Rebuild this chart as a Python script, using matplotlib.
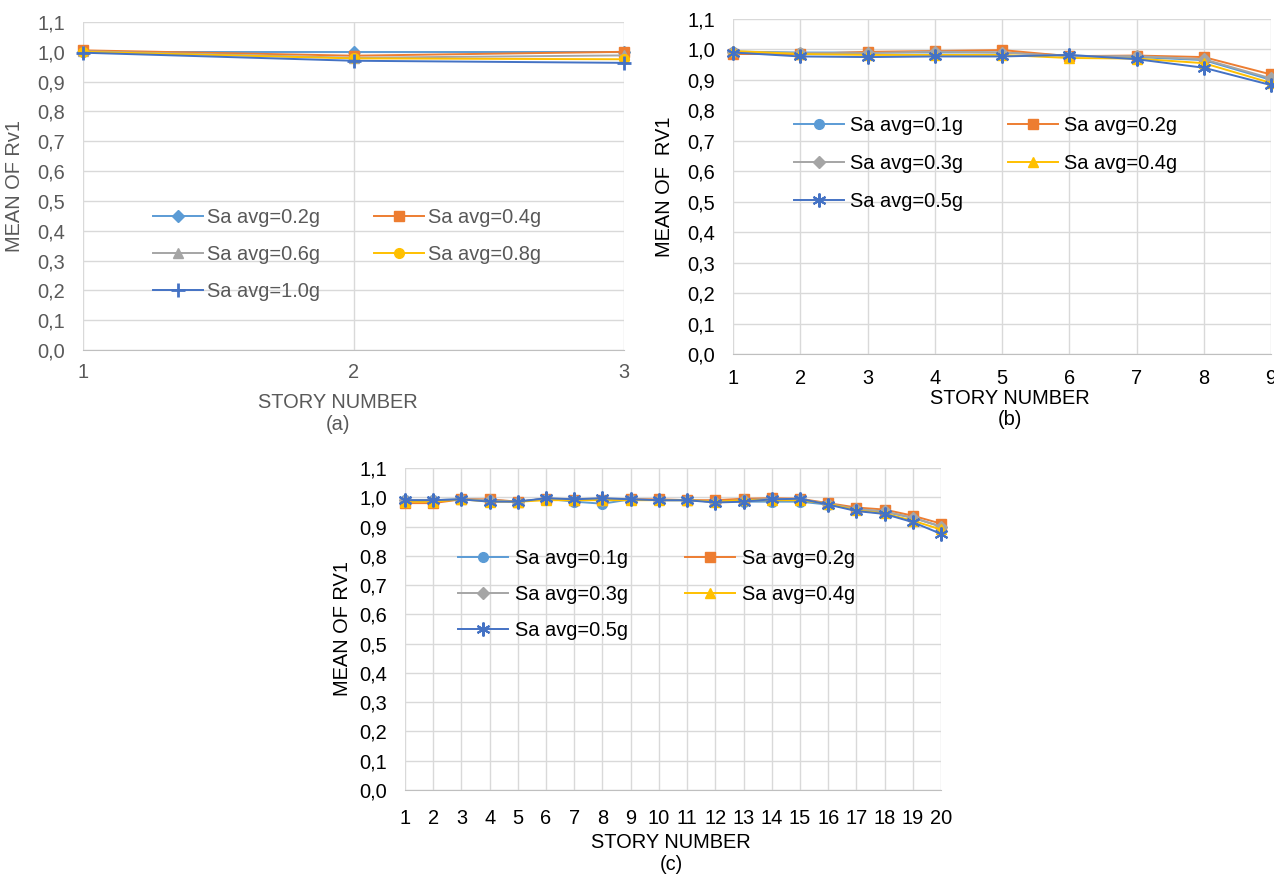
import numpy as np
import matplotlib
matplotlib.use("Agg")
import matplotlib.pyplot as plt
from matplotlib.ticker import FuncFormatter

plt.rcParams['font.family'] = ['Liberation Sans', 'DejaVu Sans']

# ---- data -----------------------------------------------------------------
stories_a = [1, 2, 3]
a_labels = ['Sa avg=0.2g', 'Sa avg=0.4g', 'Sa avg=0.6g', 'Sa avg=0.8g', 'Sa avg=1.0g']
a_02 = [1.000, 1.000, 1.000]
a_04 = [1.005, 0.987, 1.000]
a_06 = [1.002, 0.980, 0.988]
a_08 = [1.000, 0.978, 0.975]
a_10 = [0.997, 0.970, 0.963]

stories_b = list(range(1, 10))
bc_labels = ['Sa avg=0.1g', 'Sa avg=0.2g', 'Sa avg=0.3g', 'Sa avg=0.4g', 'Sa avg=0.5g']
b_01 = [0.993, 0.990, 0.990, 0.990, 0.990, 0.980, 0.975, 0.965, 0.900]
b_02 = [0.985, 0.985, 0.992, 0.995, 0.998, 0.978, 0.980, 0.975, 0.918]
b_03 = [0.992, 0.988, 0.988, 0.993, 0.990, 0.978, 0.978, 0.968, 0.905]
b_04 = [0.995, 0.985, 0.982, 0.982, 0.982, 0.972, 0.970, 0.955, 0.890]
b_05 = [0.990, 0.977, 0.975, 0.977, 0.977, 0.982, 0.968, 0.940, 0.883]

stories_c = list(range(1, 21))
c_01 = [0.990, 0.990, 0.993, 0.990, 0.985, 0.995, 0.985, 0.978, 0.993, 0.990,
        0.990, 0.985, 0.985, 0.985, 0.985, 0.975, 0.960, 0.950, 0.930, 0.900]
c_02 = [0.980, 0.980, 0.993, 0.993, 0.985, 0.995, 0.992, 0.990, 0.993, 0.993,
        0.990, 0.990, 0.995, 0.997, 0.995, 0.980, 0.965, 0.958, 0.937, 0.910]
c_03 = [0.990, 0.990, 0.993, 0.990, 0.985, 0.995, 0.992, 0.990, 0.993, 0.990,
        0.990, 0.985, 0.990, 0.995, 0.993, 0.978, 0.960, 0.952, 0.930, 0.900]
c_04 = [0.985, 0.985, 0.993, 0.985, 0.985, 0.990, 0.990, 0.990, 0.990, 0.990,
        0.990, 0.985, 0.990, 0.990, 0.990, 0.978, 0.955, 0.945, 0.920, 0.890]
c_05 = [0.990, 0.990, 0.993, 0.985, 0.985, 0.997, 0.993, 0.997, 0.993, 0.990,
        0.990, 0.982, 0.985, 0.993, 0.995, 0.975, 0.953, 0.943, 0.915, 0.875]

# ---- styles ---------------------------------------------------------------
LB, OR, GR, YE, BL = '#5B9BD5', '#ED7D31', '#A5A5A5', '#FFC000', '#4472C4'
STAR = (6, 2, 0)
style_a = [(LB, 'D', 6.5, 1), (OR, 's', 7, 1), (GR, '^', 7.5, 1), (YE, 'o', 7, 1), (BL, '+', 10, 2)]
style_bc = [(LB, 'o', 7, 1), (OR, 's', 7, 1), (GR, 'D', 6, 1), (YE, '^', 7.5, 1), (BL, STAR, 10, 1.5)]

W, H = 1274, 876
FS = 14.4
fig = plt.figure(figsize=(W / 100, H / 100), dpi=100)


def px_axes(l, r, t, b):
    return fig.add_axes([l / W, 1 - b / H, (r - l) / W, (b - t) / H])


comma = FuncFormatter(lambda v, p: f"{v:.1f}".replace('.', ','))


def draw(ax, x, series, labels, styles, txtcolor, xpad, ylabel, ylx, leg_xy, leg_kw):
    handles = []
    for y, lab, (c, m, ms, mew) in zip(series, labels, styles):
        h, = ax.plot(x, y, color=c, lw=1.4, marker=m, markersize=ms, markerfacecolor=c,
                     markeredgecolor=c, markeredgewidth=mew, label=lab, clip_on=False)
        handles.append(h)
    ax.set_xlim(x[0], x[-1])
    ax.set_ylim(0, 1.1)
    ax.set_yticks(np.arange(0, 1.11, 0.1))
    ax.set_xticks(x)
    ax.yaxis.set_major_formatter(comma)
    ax.grid(True, color='#d9d9d9', lw=1)
    ax.set_axisbelow(True)
    for s in ['top', 'right', 'left']:
        ax.spines[s].set_visible(False)
    ax.spines['bottom'].set_color('#bfbfbf')
    ax.tick_params(axis='both', length=0, labelsize=FS, colors=txtcolor)
    ax.tick_params(axis='x', pad=xpad)
    ax.tick_params(axis='y', pad=13)
    pos = ax.get_position()
    fig.text(ylx / W, pos.y0 + pos.height / 2, ylabel, rotation=90, ha='center', va='center',
             fontsize=FS, color=txtcolor)
    # row-wise legend order, as in the original
    order = [0, 2, 4, 1, 3]
    ax.legend([handles[i] for i in order], [labels[i] for i in order], ncol=2,
              loc='upper left', bbox_to_anchor=(leg_xy[0] / W, 1 - leg_xy[1] / H),
              bbox_transform=fig.transFigure, frameon=False, borderpad=0, borderaxespad=0,
              fontsize=FS, labelcolor=txtcolor, handlelength=2.5, **leg_kw)


ax_a = px_axes(83, 624, 22, 350)
draw(ax_a, stories_a, [a_02, a_04, a_06, a_08, a_10], a_labels, style_a, '#595959', 9,
     'MEAN OF Rv1', 15, (153, 208),
     dict(handletextpad=0.2, columnspacing=2.7, labelspacing=0.9))

ax_b = px_axes(733, 1271, 19, 354)
draw(ax_b, stories_b, [b_01, b_02, b_03, b_04, b_05], bc_labels, style_bc, '#000000', 11,
     'MEAN OF  RV1', 665, (794, 116),
     dict(handletextpad=0.3, columnspacing=2.25, labelspacing=0.96))

ax_c = px_axes(405, 941, 468, 790)
draw(ax_c, stories_c, [c_01, c_02, c_03, c_04, c_05], bc_labels, style_bc, '#000000', 14,
     'MEAN OF RV1', 343, (458, 549),
     dict(handletextpad=0.35, columnspacing=2.85, labelspacing=0.84))

# axis titles and panel captions
for xc, y1, y2, col, cap in [(338, 403, 424, '#595959', '(a)'),
                             (1010, 398, 420, '#000000', '(b)'),
                             (671, 842, 865, '#000000', '(c)')]:
    fig.text(xc / W, 1 - y1 / H, 'STORY NUMBER', ha='center', va='center', fontsize=FS, color=col)
    fig.text(xc / W, 1 - y2 / H, cap, ha='center', va='center', fontsize=FS, color=col)

fig.savefig('out.png', dpi=100)
